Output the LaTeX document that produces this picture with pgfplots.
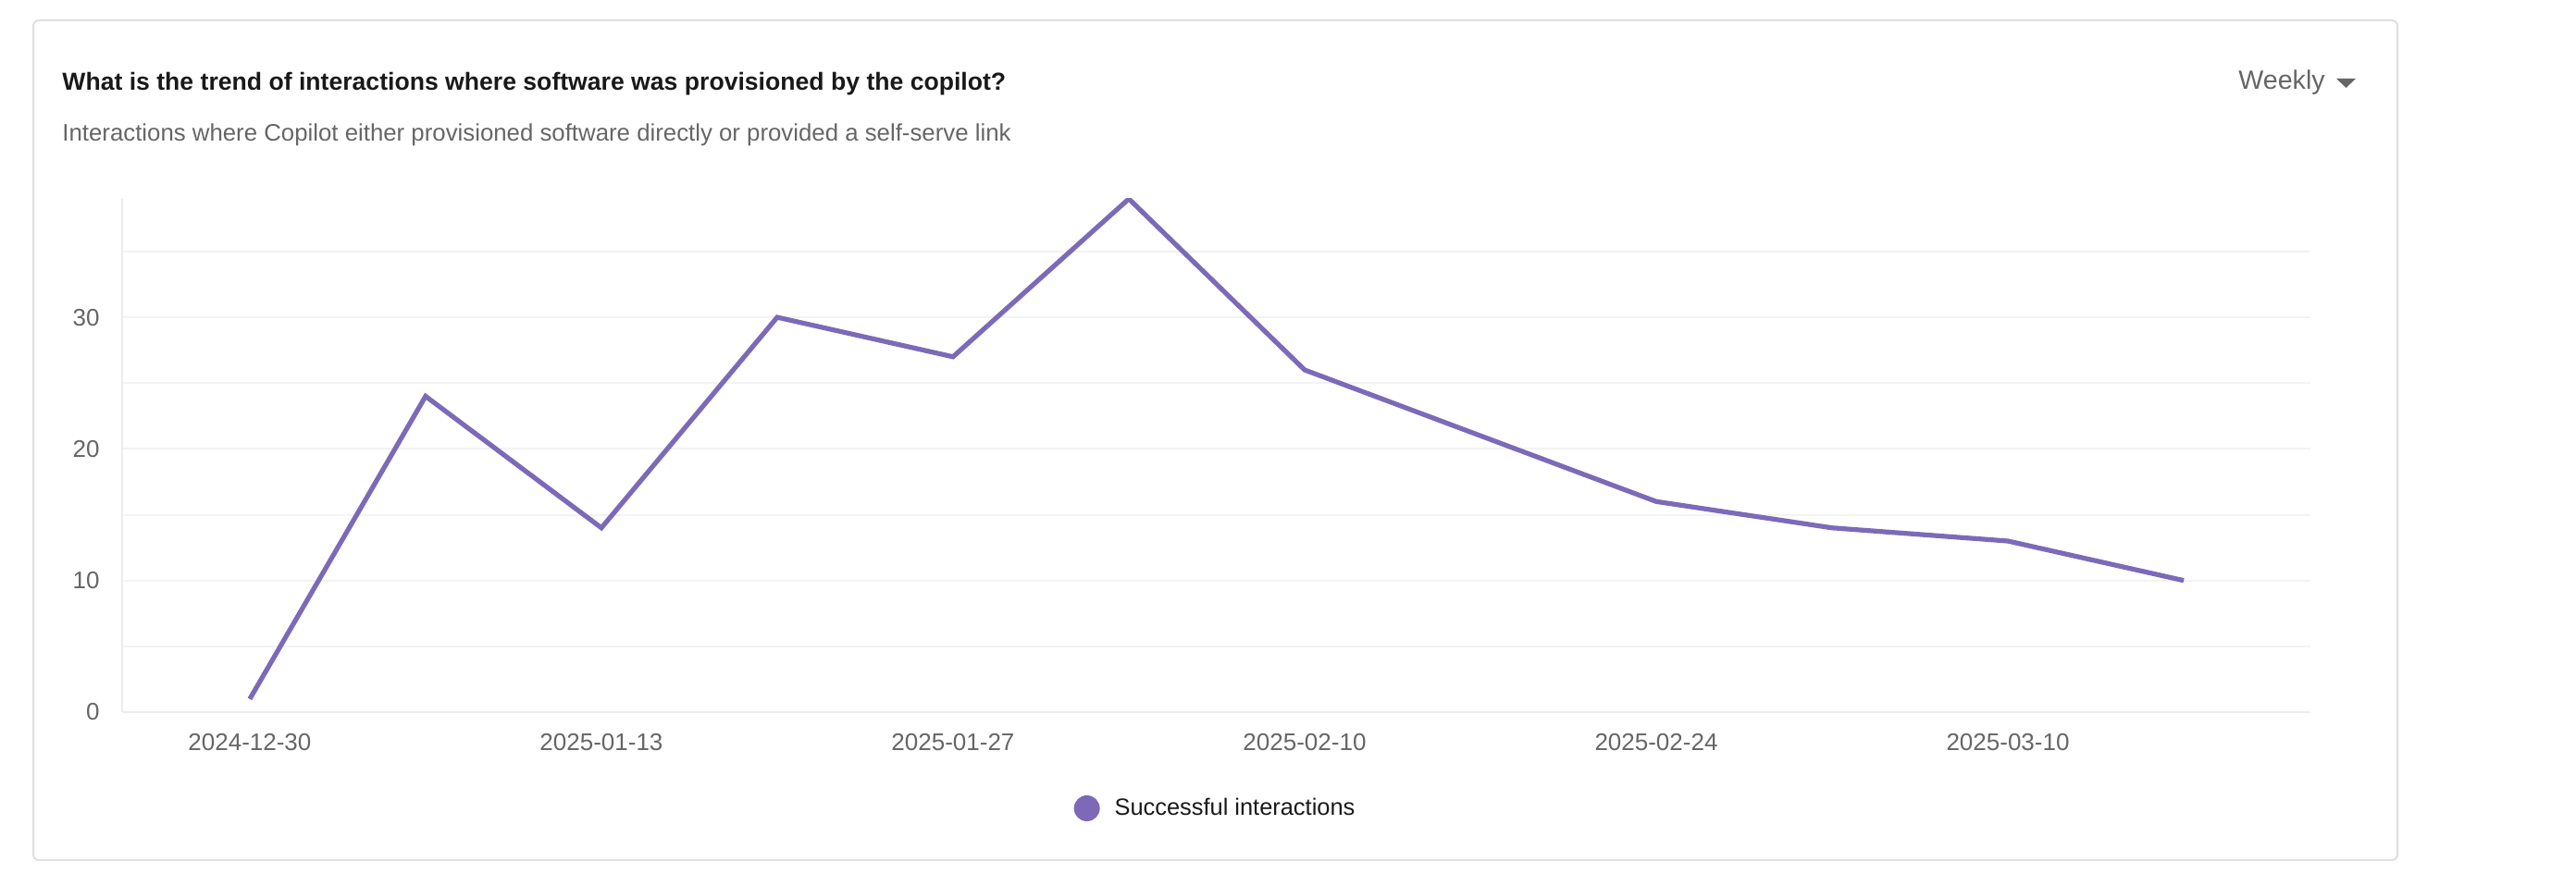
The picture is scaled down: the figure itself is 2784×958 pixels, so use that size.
\documentclass[border=0pt]{standalone}
\usepackage{fontspec}
\setmainfont{Liberation Sans}
\usepackage{pgfplots}
\pgfplotsset{compat=1.18}

\definecolor{linepurple}{RGB}{124,106,185}
\definecolor{gridgray}{RGB}{243,243,243}
\definecolor{axisgray}{RGB}{236,236,236}
\definecolor{cardgray}{RGB}{224,224,224}
\definecolor{labelgray}{RGB}{102,102,102}

\begin{document}
\begin{tikzpicture}
% card and header, drawn in pixel units (1px = 0.5pt), y measured from the bottom
\begin{scope}[x=0.5pt,y=0.5pt]
  \path[use as bounding box, fill=white] (0,0) rectangle (2784,958);
  \draw[cardgray, line width=1pt, rounded corners=3pt] (36,28) rectangle (2591,936);
  \node[anchor=base west, inner sep=0pt, text=black!90]
    at (67,860) {\fontsize{13.3}{16}\selectfont\bfseries What is the trend of interactions where software was provisioned by the copilot?};
  \node[anchor=base west, inner sep=0pt, text=labelgray]
    at (67,805) {\fontsize{12.9}{15}\selectfont Interactions where Copilot either provisioned software directly or provided a self-serve link};
  \node[anchor=base west, inner sep=0pt, text=labelgray]
    at (2419,861) {\fontsize{14.3}{17}\selectfont Weekly};
  \fill[labelgray] (2525,873) -- (2546,873) -- (2535.5,863) -- cycle;
\end{scope}

\begin{axis}[
    at={(66pt,94pt)},
    anchor=south west,
    scale only axis,
    width=1182.5pt,
    height=277.5pt,
    xmin=-0.726, xmax=11.721,
    ymin=0, ymax=39,
    axis lines*=left,
    x axis line style={axisgray, line width=1pt},
    y axis line style={axisgray, line width=0.6pt},
    major tick length=0pt,
    minor tick length=0pt,
    xtick={0,2,4,6,8,10},
    xticklabels={2024-12-30,2025-01-13,2025-01-27,2025-02-10,2025-02-24,2025-03-10},
    ytick={0,10,20,30},
    minor ytick={5,15,25,35},
    ymajorgrids=true,
    yminorgrids=true,
    major grid style={gridgray, line width=1pt},
    minor grid style={gridgray, line width=1pt},
    /pgf/number format/assume math mode=true,
    ticklabel style={text=labelgray, font=\fontsize{13}{15}\selectfont},
    xticklabel style={anchor=base, yshift=-21pt},
    yticklabel style={anchor=east, xshift=-8.7pt},
    legend style={at={(0.5,0)}, anchor=center, yshift=-52pt, draw=none, fill=none,
                  font=\fontsize{12.7}{15}\selectfont, text=black!90,
                  cells={anchor=west}},
    legend image code/.code={\fill[linepurple, draw=none] (0pt,0pt) circle (7pt);
                             \path[draw=none, fill=none] (-7pt,0pt) -- (13pt,0pt);},
]

\addplot[linepurple, line width=2.6pt, line join=miter] coordinates {
    (0,1) (1,24) (2,14) (3,30) (4,27) (5,39)
    (6,26) (7,21) (8,16) (9,14) (10,13) (11,10)
};
\addlegendentry{Successful interactions}

\end{axis}
\end{tikzpicture}
\end{document}
